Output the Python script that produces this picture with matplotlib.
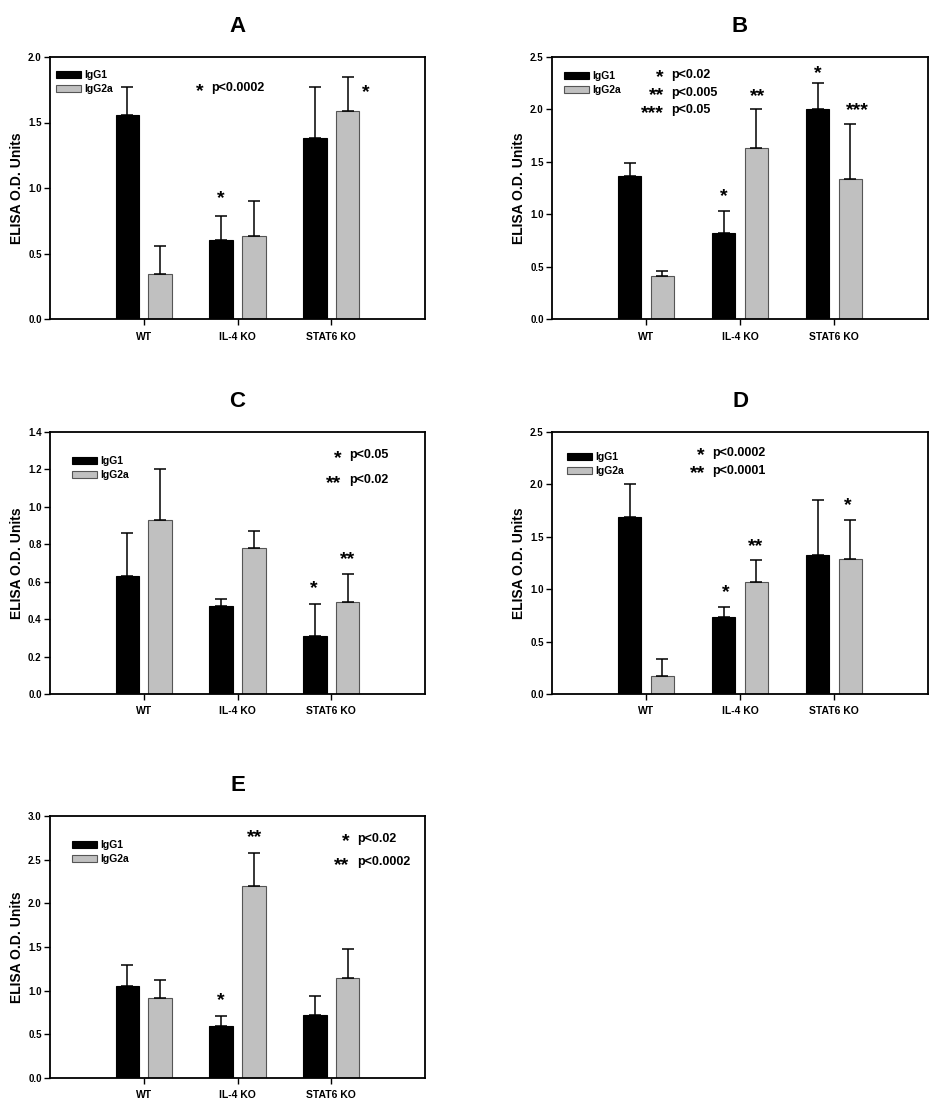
import matplotlib
matplotlib.use('Agg')
import matplotlib.pyplot as plt
import matplotlib.transforms as mtransforms
import numpy as np

plt.rcParams['font.family'] = ['Liberation Sans', 'DejaVu Sans']
plt.rcParams['font.weight'] = 'bold'

groups = ['WT', 'IL-4 KO', 'STAT6 KO']
series = ['IgG1', 'IgG2a']

# mean and upper error per panel, order WT, IL-4 KO, STAT6 KO
a_igg1 = [1.56, 0.60, 1.38]
a_igg1_err = [0.21, 0.19, 0.39]
a_igg2a = [0.34, 0.63, 1.59]
a_igg2a_err = [0.22, 0.27, 0.26]

b_igg1 = [1.36, 0.82, 2.00]
b_igg1_err = [0.13, 0.21, 0.25]
b_igg2a = [0.41, 1.63, 1.34]
b_igg2a_err = [0.05, 0.37, 0.52]

c_igg1 = [0.63, 0.47, 0.31]
c_igg1_err = [0.23, 0.04, 0.17]
c_igg2a = [0.93, 0.78, 0.49]
c_igg2a_err = [0.27, 0.09, 0.15]

d_igg1 = [1.69, 0.73, 1.33]
d_igg1_err = [0.31, 0.10, 0.52]
d_igg2a = [0.17, 1.07, 1.29]
d_igg2a_err = [0.16, 0.21, 0.37]

e_igg1 = [1.05, 0.59, 0.72]
e_igg1_err = [0.24, 0.12, 0.22]
e_igg2a = [0.92, 2.20, 1.15]
e_igg2a_err = [0.20, 0.38, 0.33]

# p-value keys
a_pvals = [('*', 'p<0.0002')]
b_pvals = [('*', 'p<0.02'), ('**', 'p<0.005'), ('***', 'p<0.05')]
c_pvals = [('*', 'p<0.05'), ('**', 'p<0.02')]
d_pvals = [('*', 'p<0.0002'), ('**', 'p<0.0001')]
e_pvals = [('*', 'p<0.02'), ('**', 'p<0.0002')]

W, H = 950, 1112
fig = plt.figure(figsize=(W / 100, H / 100), dpi=100)
STAR = 14


def make_axes(left, top, right, bottom):
    return fig.add_axes([left / W, 1 - bottom / H, (right - left) / W, (bottom - top) / H])


def star(ax, x, y, s, ha='center'):
    off = mtransforms.ScaledTranslation(0, -0.38 * STAR / 72, fig.dpi_scale_trans)
    ax.text(x, y, s, ha=ha, va='baseline', fontsize=STAR,
            transform=ax.transData + off)


def panel(ax, title, igg1, igg1_err, igg2a, igg2a_err, ymax, ystep,
          legend_xy, pvals, pval_x, pval_y, stars):
    x = np.arange(1, len(groups) + 1)
    w = 0.25
    ekw = dict(ecolor='black', elinewidth=1.1, capsize=4.5, capthick=1.1)
    ax.bar(x - 0.175, igg1, w, color='black', edgecolor='black', linewidth=0.8,
           yerr=[np.zeros(3), igg1_err], error_kw=ekw, label=series[0])
    ax.bar(x + 0.175, igg2a, w, color='#c0c0c0', edgecolor='#555555', linewidth=0.8,
           yerr=[np.zeros(3), igg2a_err], error_kw=ekw, label=series[1])
    ax.set_xlim(0, 4)
    ax.set_ylim(0, ymax)
    ax.set_yticks(np.arange(0, ymax + ystep / 2, ystep))
    ax.yaxis.set_major_formatter(matplotlib.ticker.FormatStrFormatter('%.1f'))
    ax.set_xticks(x)
    ax.set_xticklabels(groups, fontsize=7.5, fontweight='bold')
    ax.tick_params(axis='y', labelsize=7, length=4, width=1, direction='out', pad=2)
    ax.tick_params(axis='x', length=4, width=1, direction='out', pad=5)
    for sp in ax.spines.values():
        sp.set_linewidth(1.3)
    ax.set_ylabel('ELISA O.D. Units', fontsize=10, fontweight='bold')
    ax.yaxis.set_label_coords(-0.07, 0.5)
    ax.set_title(title, fontsize=16, fontweight='bold', pad=18)
    ax.legend(loc='upper left', bbox_to_anchor=legend_xy, frameon=False,
              borderpad=0, borderaxespad=0, handlelength=2.4, handleheight=0.6,
              handletextpad=0.3, labelspacing=0.4, prop={'size': 7.5, 'weight': 'bold'})
    for (s, p), y in zip(pvals, pval_y):
        star(ax, pval_x - 0.04, y, s, ha='right')
        ax.text(pval_x + 0.04, y, p, ha='left', va='center', fontsize=9)
    for sx, sy, s in stars:
        star(ax, sx, sy, s)


ax_a = make_axes(50, 57, 425, 319)
panel(ax_a, 'A', a_igg1, a_igg1_err, a_igg2a, a_igg2a_err, 2.0, 0.5,
      (0.016, 0.95), a_pvals, 1.68, [1.76],
      [(1.825, 0.94, '*'), (3.37, 1.75, '*')])

ax_b = make_axes(552, 57, 928, 319)
panel(ax_b, 'B', b_igg1, b_igg1_err, b_igg2a, b_igg2a_err, 2.5, 0.5,
      (0.032, 0.947), b_pvals, 1.23, [2.33, 2.16, 1.99],
      [(1.83, 1.20, '*'), (2.19, 2.15, '**'), (2.83, 2.37, '*'), (3.25, 2.02, '***')])

ax_c = make_axes(50, 432, 425, 694)
panel(ax_c, 'C', c_igg1, c_igg1_err, c_igg2a, c_igg2a_err, 1.4, 0.2,
      (0.059, 0.908), c_pvals, 3.15, [1.276, 1.142],
      [(2.81, 0.577, '*'), (3.17, 0.734, '**')])

ax_d = make_axes(552, 432, 928, 694)
panel(ax_d, 'D', d_igg1, d_igg1_err, d_igg2a, d_igg2a_err, 2.5, 0.5,
      (0.04, 0.924), d_pvals, 1.665, [2.30, 2.13],
      [(1.85, 1.00, '*'), (2.17, 1.43, '**'), (3.15, 1.83, '*')])

ax_e = make_axes(50, 816, 425, 1078)
panel(ax_e, 'E', e_igg1, e_igg1_err, e_igg2a, e_igg2a_err, 3.0, 0.5,
      (0.059, 0.908), e_pvals, 3.235, [2.74, 2.47],
      [(1.82, 0.925, '*'), (2.18, 2.79, '**')])

fig.savefig('out.png', dpi=100)
